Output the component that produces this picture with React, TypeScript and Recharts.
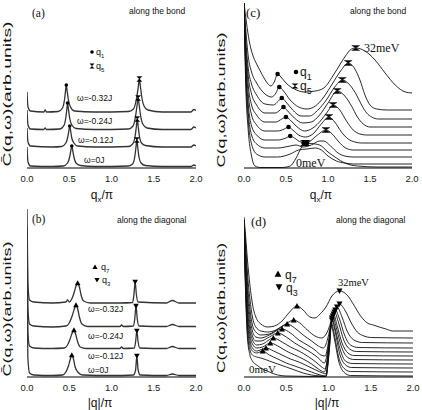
import React from 'react';
import { ComposedChart, Line, Scatter, XAxis, YAxis } from 'recharts';

type P = [number, number];

const SANS = "'Liberation Sans', Arial, sans-serif";
const SERIF = "'Liberation Serif', 'Times New Roman', serif";

const xTicks = [0, 0.5, 1, 1.5, 2];
const xTickLabels = ['0.0', '0.5', '1.0', '1.5', '2.0'];
const dSideTicks = [22.5, 45, 67.5, 90, 112.5, 135, 157.5];

// ---------- panel (a): along the bond, omega series ----------
const aOmegaLabels = ['ω=0J', 'ω=-0.12J', 'ω=-0.24J', 'ω=-0.32J'];
const aW0: P[] = [[0, 21], [0.012, 6], [0.04, 2], [0.3, 1.5], [0.43, 2], [0.48, 5], [0.505, 11], [0.52, 18], [0.53, 22], [0.54, 18], [0.555, 11], [0.58, 5], [0.63, 2.5], [0.8, 1.5], [1.2, 2], [1.25, 4], [1.275, 11], [1.29, 21], [1.3, 28], [1.31, 21], [1.325, 11], [1.35, 5], [1.4, 2.5], [1.6, 1.5], [1.94, 1.5], [1.975, 3], [2, 2]];
const aW1: P[] = [[0, 40], [0.012, 26], [0.04, 22], [0.3, 21], [0.41, 21.5], [0.46, 25], [0.485, 32], [0.497, 38], [0.505, 42], [0.515, 38], [0.53, 30], [0.555, 25], [0.6, 22], [0.8, 21], [1.2, 21.5], [1.25, 24], [1.28, 32], [1.295, 42], [1.305, 49], [1.315, 42], [1.33, 32], [1.355, 25], [1.4, 22.5], [1.6, 21], [1.94, 21], [1.975, 23], [2, 22]];
const aW2: P[] = [[0, 58], [0.012, 43], [0.04, 39], [0.2, 38.5], [0.215, 40], [0.23, 38.5], [0.39, 39], [0.44, 43], [0.462, 52], [0.472, 59], [0.48, 65], [0.49, 59], [0.505, 50], [0.53, 43], [0.58, 39.5], [0.8, 38.5], [1.2, 39], [1.255, 42], [1.285, 52], [1.303, 63], [1.315, 70], [1.327, 63], [1.345, 52], [1.37, 44], [1.42, 40], [1.6, 38.5], [1.94, 38.5], [1.975, 41], [2, 40]];
const aW3: P[] = [[0, 76], [0.012, 61], [0.04, 57], [0.2, 56], [0.215, 58], [0.23, 56], [0.37, 56.5], [0.42, 60], [0.445, 69], [0.456, 77], [0.465, 83], [0.475, 77], [0.49, 68], [0.515, 61], [0.56, 57], [0.8, 56], [1.2, 56.5], [1.26, 59], [1.295, 69], [1.317, 81], [1.33, 89], [1.343, 81], [1.36, 70], [1.385, 62], [1.43, 58], [1.6, 56], [1.94, 56], [1.975, 58.5], [2, 57.5]];
const aQ1: P[] = [[0.53, 22], [0.505, 42], [0.48, 65], [0.465, 83]];
const aQ5: P[] = [[1.3, 28], [1.305, 49], [1.315, 70], [1.33, 89]];

// ---------- panel (b): along the diagonal, omega series ----------
const bW0: P[] = [[0, 100], [0.01, 20], [0.03, 4], [0.08, 2], [0.3, 1.5], [0.42, 2], [0.46, 5], [0.49, 11], [0.51, 17], [0.53, 22], [0.55, 18], [0.57, 10], [0.6, 5], [0.66, 2], [1.0, 1.5], [1.26, 2], [1.285, 7], [1.3, 21], [1.315, 7], [1.34, 2], [1.65, 1.5], [1.72, 3], [1.8, 1.5], [2, 1.5]];
const bW1: P[] = [[0, 120], [0.01, 45], [0.03, 31], [0.08, 29], [0.3, 28.5], [0.44, 29], [0.48, 32], [0.51, 38], [0.535, 44], [0.556, 47], [0.575, 43], [0.6, 35], [0.63, 30], [0.7, 28.5], [1.1, 28.5], [1.12, 30], [1.14, 28.5], [1.27, 29], [1.285, 35], [1.3, 46], [1.315, 35], [1.335, 29], [1.65, 28.5], [1.72, 30.5], [1.8, 28.5], [2, 28.5]];
const bW2: P[] = [[0, 150], [0.01, 70], [0.03, 53], [0.08, 51], [0.3, 50], [0.46, 51], [0.5, 54], [0.53, 60], [0.56, 68], [0.58, 72], [0.6, 68], [0.62, 60], [0.65, 53], [0.72, 50.5], [1.1, 50.5], [1.12, 52], [1.14, 50.5], [1.26, 51], [1.275, 58], [1.29, 71], [1.305, 58], [1.325, 51], [1.65, 50.5], [1.72, 52.5], [1.8, 50.5], [2, 50.5]];
const bW3: P[] = [[0, 168], [0.01, 95], [0.03, 77], [0.08, 75], [0.3, 74], [0.46, 75], [0.48, 77], [0.5, 75], [0.53, 78], [0.56, 85], [0.58, 91], [0.6, 94], [0.62, 90], [0.64, 82], [0.67, 76], [0.75, 74], [1.1, 74], [1.25, 74.5], [1.265, 82], [1.28, 95], [1.295, 82], [1.315, 75], [1.65, 74], [1.72, 76.5], [1.8, 74], [2, 74]];
const bQ7: P[] = [[0.53, 22], [0.556, 47], [0.58, 72], [0.6, 94]];
const bQ3: P[] = [[1.3, 21], [1.3, 46], [1.29, 71], [1.28, 95]];

// ---------- panel (c): along the bond, 0meV .. 32meV ----------
const c0: P[] = [[0, 165], [0.02, 85], [0.05, 38], [0.09, 12], [0.13, 2], [0.2, 0.5], [0.45, 0.5], [0.55, 2], [0.62, 10], [0.68, 20], [0.73, 25], [0.8, 24.5], [0.9, 23], [1.0, 16], [1.1, 10], [1.2, 5], [1.35, 2], [1.6, 1], [2, 1]];
const c1: P[] = [[0, 165], [0.02, 95], [0.05, 48], [0.09, 24], [0.15, 14], [0.25, 11], [0.4, 11], [0.55, 14], [0.65, 18], [0.75, 19], [0.85, 20], [0.92, 18], [1.0, 12], [1.1, 7], [1.2, 5], [1.3, 4], [2, 4]];
const c2: P[] = [[0, 165], [0.02, 100], [0.05, 56], [0.09, 33], [0.15, 24], [0.25, 20], [0.4, 20], [0.55, 22], [0.62, 23], [0.7, 21], [0.8, 23], [0.9, 27], [0.95, 27], [1.03, 22], [1.12, 15], [1.2, 12], [1.3, 11], [2, 11]];
const c3: P[] = [[0, 165], [0.02, 105], [0.05, 64], [0.09, 42], [0.15, 33], [0.25, 28], [0.4, 28], [0.5, 30], [0.55, 32], [0.6, 30], [0.68, 26], [0.76, 26], [0.86, 32], [0.976, 38], [1.05, 34], [1.13, 26], [1.21, 20], [1.3, 18], [2, 18]];
const c4: P[] = [[0, 165], [0.02, 112], [0.05, 74], [0.09, 53], [0.15, 43], [0.25, 37], [0.4, 37], [0.48, 39], [0.53, 41], [0.58, 38], [0.65, 33], [0.73, 31], [0.82, 34], [0.92, 44], [1.01, 51], [1.08, 46], [1.16, 36], [1.24, 29], [1.32, 26], [1.4, 25], [2, 25]];
const c5: P[] = [[0, 165], [0.02, 118], [0.05, 83], [0.09, 63], [0.15, 53], [0.25, 46], [0.38, 46], [0.45, 49], [0.5, 51], [0.55, 48], [0.62, 42], [0.72, 37], [0.82, 40], [0.92, 48], [1.0, 57], [1.06, 63], [1.14, 58], [1.22, 47], [1.3, 38], [1.38, 34], [1.46, 33], [2, 33]];
const c6: P[] = [[0, 165], [0.02, 124], [0.05, 92], [0.09, 74], [0.15, 63], [0.25, 55], [0.37, 55], [0.43, 58], [0.47, 61], [0.52, 57], [0.6, 50], [0.7, 45], [0.8, 46], [0.9, 53], [1.0, 65], [1.11, 77], [1.2, 72], [1.28, 62], [1.35, 51], [1.42, 44], [1.5, 41], [2, 41]];
const c7: P[] = [[0, 165], [0.02, 130], [0.05, 100], [0.09, 84], [0.15, 73], [0.25, 64], [0.35, 63], [0.41, 67], [0.45, 70], [0.5, 66], [0.58, 58], [0.68, 52], [0.78, 52], [0.88, 58], [0.98, 68], [1.08, 81], [1.17, 88], [1.26, 83], [1.34, 73], [1.4, 63], [1.46, 55], [1.52, 51], [1.6, 49], [2, 49]];
const c8: P[] = [[0, 165], [0.02, 140], [0.05, 112], [0.09, 96], [0.15, 85], [0.25, 74], [0.33, 71], [0.38, 75], [0.42, 81], [0.47, 77], [0.55, 68], [0.65, 61], [0.75, 59], [0.85, 62], [0.95, 71], [1.05, 84], [1.15, 97], [1.24, 105], [1.32, 99], [1.38, 88], [1.44, 73], [1.5, 63], [1.58, 59], [1.7, 58], [2, 58]];
const c9: P[] = [[0, 165], [0.03, 145], [0.06, 128], [0.1, 114], [0.15, 104], [0.2, 96], [0.26, 87], [0.32, 82], [0.36, 86], [0.4, 94], [0.44, 91], [0.5, 85], [0.6, 79], [0.72, 76], [0.85, 77], [0.95, 80], [1.08, 95], [1.2, 111], [1.28, 119], [1.33, 120], [1.44, 117], [1.56, 108], [1.68, 95], [1.8, 83], [1.92, 76], [2, 75]];
const cQ1: P[] = [[0.4, 94], [0.42, 81], [0.45, 70], [0.47, 61], [0.5, 51], [0.53, 41], [0.55, 32]];
const cQ5: P[] = [[1.33, 120], [1.24, 105], [1.17, 88], [1.11, 77], [1.06, 63], [1.01, 51], [0.976, 38]];
const cMerged: P[] = [[0.73, 25]];

// ---------- panel (d): along the diagonal, 0meV .. 32meV ----------
const d0: P[] = [[0, 149], [0.02, 80], [0.04, 40], [0.07, 22], [0.1, 16], [0.15, 12], [0.2, 9], [0.3, 5], [0.4, 2], [0.5, 1], [0.97, 0.5], [1.0, 18], [1.02, 38], [1.03, 52], [1.07, 38], [1.12, 16], [1.18, 5], [1.26, 1.5], [2, 1]];
const d1: P[] = [[0, 150], [0.02, 85], [0.04, 46], [0.07, 27], [0.1, 22], [0.15, 20], [0.2, 19], [0.3, 16], [0.4, 13], [0.5, 10], [0.6, 7], [0.7, 4], [0.8, 2], [0.9, 1], [0.97, 0.5], [1.0, 20], [1.02, 40], [1.03, 55], [1.07, 42], [1.12, 20], [1.18, 9], [1.26, 5.5], [2, 5]];
const d2: P[] = [[0, 151], [0.02, 90], [0.04, 52], [0.07, 32], [0.1, 26], [0.15, 24], [0.22, 26], [0.3, 22], [0.4, 18], [0.5, 14], [0.6, 11], [0.7, 8], [0.8, 5], [0.9, 2], [0.97, 1], [1.0, 22], [1.02, 42], [1.04, 57], [1.08, 45], [1.13, 24], [1.19, 13], [1.27, 9.5], [2, 9]];
const d3: P[] = [[0, 152], [0.02, 95], [0.04, 58], [0.07, 37], [0.1, 29], [0.15, 26], [0.26, 29], [0.35, 26], [0.45, 22], [0.55, 18], [0.65, 15], [0.75, 11], [0.85, 7], [0.93, 4], [0.97, 3], [1.0, 25], [1.02, 45], [1.04, 59], [1.08, 48], [1.14, 27], [1.2, 16], [1.28, 13.5], [2, 13]];
const d4: P[] = [[0, 153], [0.02, 100], [0.04, 64], [0.07, 42], [0.1, 33], [0.15, 29], [0.22, 30], [0.311, 34], [0.4, 31], [0.5, 26], [0.6, 22], [0.7, 18], [0.8, 13], [0.88, 8], [0.95, 5], [0.99, 20], [1.02, 47], [1.05, 61], [1.09, 50], [1.15, 31], [1.22, 20], [1.3, 17.5], [2, 17]];
const d5: P[] = [[0, 154], [0.02, 106], [0.04, 70], [0.07, 47], [0.1, 37], [0.15, 32], [0.22, 33], [0.347, 39], [0.45, 35], [0.55, 30], [0.65, 26], [0.75, 21], [0.85, 15], [0.92, 10], [0.96, 8], [1.0, 28], [1.03, 52], [1.06, 63], [1.1, 52], [1.16, 34], [1.23, 24], [1.3, 21.5], [2, 21]];
const d6: P[] = [[0, 155], [0.02, 112], [0.04, 78], [0.07, 53], [0.1, 41], [0.14, 36], [0.2, 36], [0.3, 40], [0.4, 44], [0.5, 40], [0.6, 34], [0.7, 29], [0.8, 24], [0.88, 19], [0.95, 14], [0.99, 26], [1.03, 52], [1.07, 65], [1.12, 54], [1.18, 37], [1.25, 28], [1.33, 25.5], [2, 25]];
const d7: P[] = [[0, 156], [0.02, 118], [0.04, 86], [0.07, 60], [0.1, 46], [0.14, 40], [0.2, 39], [0.3, 42], [0.45, 48], [0.55, 44], [0.65, 37], [0.75, 32], [0.84, 27], [0.91, 22], [0.96, 21], [1.0, 35], [1.04, 56], [1.08, 67], [1.13, 58], [1.19, 42], [1.26, 32], [1.35, 29.5], [2, 29]];
const d8: P[] = [[0, 157], [0.02, 125], [0.04, 95], [0.07, 68], [0.1, 52], [0.14, 45], [0.2, 42], [0.3, 43], [0.4, 48], [0.51, 53], [0.6, 49], [0.7, 42], [0.8, 36], [0.88, 31], [0.94, 29], [0.99, 38], [1.04, 58], [1.1, 70], [1.16, 60], [1.22, 46], [1.3, 37], [1.4, 34.5], [2, 34]];
const d9: P[] = [[0, 158], [0.02, 132], [0.04, 105], [0.07, 78], [0.1, 60], [0.14, 50], [0.2, 46], [0.28, 45], [0.38, 47], [0.48, 52], [0.588, 57], [0.66, 54], [0.75, 47], [0.84, 41], [0.92, 39], [0.98, 44], [1.05, 60], [1.13, 73], [1.2, 66], [1.27, 54], [1.34, 45], [1.42, 41], [1.5, 39.5], [2, 39]];
const d10: P[] = [[0, 160], [0.02, 140], [0.04, 118], [0.07, 92], [0.1, 73], [0.14, 60], [0.2, 53], [0.28, 50], [0.36, 51], [0.45, 56], [0.54, 65], [0.627, 71], [0.7, 67], [0.78, 60], [0.84, 59], [0.9, 63], [0.97, 70], [1.04, 81], [1.13, 86], [1.22, 82], [1.3, 72], [1.38, 61], [1.46, 54], [1.53, 52], [1.6, 50], [1.68, 48], [1.76, 46], [2, 46]];
const dQ7: P[] = [[0.627, 71], [0.588, 57], [0.51, 53], [0.45, 48], [0.4, 44], [0.347, 39], [0.311, 34], [0.26, 29], [0.22, 26]];
const dQ3: P[] = [[1.13, 86], [1.13, 73], [1.1, 70], [1.08, 67], [1.07, 65], [1.06, 63], [1.05, 61], [1.04, 59], [1.04, 57]];

const toObj = (pts: P[]) => pts.map(([x, y]) => ({ x, y }));

// ---------- marker shapes ----------
const hgPath = (cx: number, cy: number, w: number, h: number) =>
  `M${cx - w / 2},${cy - h / 2}L${cx + w / 2},${cy - h / 2}L${cx},${cy}L${cx + w / 2},${cy + h / 2}L${cx - w / 2},${cy + h / 2}L${cx},${cy}Z`;
const triUpPath = (cx: number, cy: number, s: number) =>
  `M${cx},${cy - s}L${cx + s},${cy + s * 0.8}L${cx - s},${cy + s * 0.8}Z`;
const triDownPath = (cx: number, cy: number, s: number) =>
  `M${cx},${cy + s}L${cx + s},${cy - s * 0.8}L${cx - s},${cy - s * 0.8}Z`;

const dotShape = (r: number) => (p: any) => <circle cx={p.cx} cy={p.cy} r={r} fill="#000" />;
const hgShape = (w: number, h: number) => (p: any) => <path d={hgPath(p.cx, p.cy, w, h)} fill="#000" stroke="#000" strokeWidth={0.4} />;
const upShape = (s: number) => (p: any) => <path d={triUpPath(p.cx, p.cy, s)} fill="#000" />;
const downShape = (s: number) => (p: any) => <path d={triDownPath(p.cx, p.cy, s)} fill="#000" />;
const mergedShape = (p: any) => (
  <g>
    <path d={hgPath(p.cx, p.cy, 11, 6)} fill="#000" />
    <ellipse cx={p.cx} cy={p.cy} rx={4} ry={2.6} fill="#000" />
  </g>
);

type Marker = { pts: P[]; shape: (p: any) => React.ReactElement };

type PanelProps = {
  left: number;
  top: number;
  margin: { top: number; right: number; bottom: number; left: number };
  xAxisH: number;
  yMax: number;
  curves: P[][];
  markers: Marker[];
  stroke: string;
  sw: number;
  innerTicks?: boolean;
};

function Panel({ left, top, margin, xAxisH, yMax, curves, markers, stroke, sw, innerTicks }: PanelProps) {
  const empty = () => '';
  return (
    <div style={{ position: 'absolute', left, top, width: 211, height: 205 }}>
      <ComposedChart width={211} height={205} margin={margin}>
        <XAxis
          dataKey="x"
          type="number"
          domain={[0, 2]}
          ticks={xTicks}
          interval={0}
          allowDataOverflow
          height={xAxisH}
          tickLine={false}
          tickSize={5}
          axisLine={{ stroke: '#000', strokeWidth: 1 }}
          tick={{ fontSize: 9.5, fill: '#222', fontFamily: SANS }}
          tickFormatter={(v: number) => xTickLabels[xTicks.indexOf(v)] ?? String(v)}
        />
        <XAxis
          xAxisId="t"
          orientation="top"
          type="number"
          domain={[0, 2]}
          ticks={[0.5, 1, 1.5]}
          height={0}
          mirror
          tickSize={innerTicks ? 4 : 0}
          tickLine={innerTicks ? { stroke: '#000' } : false}
          axisLine={{ stroke: '#000', strokeWidth: 1 }}
          tickFormatter={empty}
        />
        <YAxis
          dataKey="y"
          type="number"
          domain={[0, yMax]}
          allowDataOverflow
          width={0}
          mirror
          ticks={innerTicks ? dSideTicks : []}
          tickSize={innerTicks ? 4 : 0}
          tickLine={innerTicks ? { stroke: '#000' } : false}
          axisLine={{ stroke: '#000', strokeWidth: 1 }}
          tickFormatter={empty}
        />
        <YAxis
          yAxisId="r"
          orientation="right"
          type="number"
          domain={[0, yMax]}
          width={0}
          mirror
          ticks={innerTicks ? dSideTicks : []}
          tickSize={innerTicks ? 4 : 0}
          tickLine={innerTicks ? { stroke: '#000' } : false}
          axisLine={{ stroke: '#000', strokeWidth: 1 }}
          tickFormatter={empty}
        />
        {curves.map((c, i) => (
          <Line
            key={'l' + i}
            data={toObj(c)}
            dataKey="y"
            type="monotone"
            dot={false}
            activeDot={false}
            stroke={stroke}
            strokeWidth={sw}
            isAnimationActive={false}
          />
        ))}
        {markers.map((m, i) => (
          <Scatter key={'s' + i} data={toObj(m.pts)} dataKey="y" shape={m.shape} isAnimationActive={false} />
        ))}
      </ComposedChart>
    </div>
  );
}

function QText({ x, y, sub, fs, subFs }: { x: number; y: number; sub: string; fs: number; subFs: number }) {
  return (
    <text x={x} y={y} fontSize={fs} fontFamily={SANS} fill="#111">
      q<tspan fontSize={subFs} dy={subFs * 0.45}>{sub}</tspan>
    </text>
  );
}

function Overlay() {
  const txt = { fill: '#111' };
  return (
    <svg width={422} height={410} style={{ position: 'absolute', left: 0, top: 0, pointerEvents: 'none' }}>
      {/* panel a */}
      <text x={32} y={17} fontSize={11.5} fontFamily={SERIF} {...txt}>(a)</text>
      <text x={129} y={14} fontSize={8.5} fontFamily={SANS} {...txt}>along the bond</text>
      <circle cx={92} cy={52} r={1.8} fill="#000" />
      <QText x={96} y={55} sub="1" fs={9} subFs={6} />
      <path d={hgPath(92, 66, 5, 5)} fill="#000" />
      <QText x={96} y={69} sub="5" fs={9} subFs={6} />
      <text x={77} y={101} fontSize={8.5} fontFamily={SANS} {...txt}>{aOmegaLabels[3]}</text>
      <text x={77} y={124} fontSize={8.5} fontFamily={SANS} {...txt}>{aOmegaLabels[2]}</text>
      <text x={78} y={143} fontSize={8.5} fontFamily={SANS} {...txt}>{aOmegaLabels[1]}</text>
      <text x={84} y={163} fontSize={8.5} fontFamily={SANS} {...txt}>{aOmegaLabels[0]}</text>
      <text x={102} y={199} fontSize={12} fontFamily={SANS} textAnchor="middle" {...txt}>
        q<tspan fontSize={8} dy={3}>x</tspan><tspan dy={-3}>/π</tspan>
      </text>
      <text x={11} y={94} transform="rotate(-90 11 94)" fontSize={11} fontFamily={SANS} textAnchor="middle" textLength={145} lengthAdjust="spacingAndGlyphs" {...txt}>
        C̄(q,ω)(arb.units)
      </text>

      {/* panel c */}
      <text x={246} y={17} fontSize={13} fontFamily={SERIF} {...txt}>(c)</text>
      <text x={350} y={14} fontSize={8.5} fontFamily={SANS} {...txt}>along the bond</text>
      <circle cx={296} cy={72} r={2.3} fill="#000" />
      <QText x={300} y={76} sub="1" fs={12} subFs={9} />
      <path d={hgPath(295, 86, 7, 5)} fill="#000" />
      <QText x={300} y={90} sub="5" fs={12} subFs={9} />
      <text x={364} y={52} fontSize={12} fontFamily={SERIF} {...txt}>32meV</text>
      <text x={296} y={167} fontSize={12} fontFamily={SERIF} {...txt}>0meV</text>
      <text x={321} y={199} fontSize={12} fontFamily={SANS} textAnchor="middle" {...txt}>
        q<tspan fontSize={8} dy={3}>x</tspan><tspan dy={-3}>/π</tspan>
      </text>
      <text x={225} y={100} transform="rotate(-90 225 100)" fontSize={11} fontFamily={SANS} textAnchor="middle" textLength={135} lengthAdjust="spacingAndGlyphs" {...txt}>
        C(q,ω)(arb.units)
      </text>

      {/* panel b */}
      <text x={32} y={223} fontSize={11.5} fontFamily={SERIF} {...txt}>(b)</text>
      <text x={117} y={223} fontSize={8.5} fontFamily={SANS} {...txt}>along the diagonal</text>
      <path d={triUpPath(95, 267, 2.6)} fill="#000" />
      <QText x={101} y={270} sub="7" fs={9} subFs={6} />
      <path d={triDownPath(97, 280, 2.6)} fill="#000" />
      <QText x={102} y={283} sub="3" fs={9} subFs={6} />
      <text x={88} y={312} fontSize={8.5} fontFamily={SANS} {...txt}>{aOmegaLabels[3]}</text>
      <text x={88} y={339} fontSize={8.5} fontFamily={SANS} {...txt}>{aOmegaLabels[2]}</text>
      <text x={88} y={359} fontSize={8.5} fontFamily={SANS} {...txt}>{aOmegaLabels[1]}</text>
      <text x={88} y={373} fontSize={8.5} fontFamily={SANS} {...txt}>{aOmegaLabels[0]}</text>
      <text x={100} y={407} fontSize={12} fontFamily={SANS} textAnchor="middle" {...txt}>|q|/π</text>
      <text x={11} y={309} transform="rotate(-90 11 309)" fontSize={11} fontFamily={SANS} textAnchor="middle" textLength={135} lengthAdjust="spacingAndGlyphs" {...txt}>
        C̄(q,ω)(arb.units)
      </text>

      {/* panel d */}
      <text x={251} y={226} fontSize={13} fontFamily={SERIF} {...txt}>(d)</text>
      <text x={336} y={223} fontSize={8.5} fontFamily={SANS} {...txt}>along the diagonal</text>
      <path d={triUpPath(278, 274, 3.4)} fill="#000" />
      <QText x={285} y={279} sub="7" fs={12} subFs={9} />
      <path d={triDownPath(279, 287, 3.4)} fill="#000" />
      <QText x={286} y={292} sub="3" fs={12} subFs={9} />
      <text x={338} y={286} fontSize={10.5} fontFamily={SERIF} {...txt}>32meV</text>
      <text x={249} y={373} fontSize={11} fontFamily={SERIF} {...txt}>0meV</text>
      <text x={327} y={407} fontSize={12} fontFamily={SANS} textAnchor="middle" {...txt}>|q|/π</text>
      <text x={225} y={308} transform="rotate(-90 225 308)" fontSize={11} fontFamily={SANS} textAnchor="middle" textLength={130} lengthAdjust="spacingAndGlyphs" {...txt}>
        C(q,ω)(arb.units)
      </text>
    </svg>
  );
}

export default function App() {
  return (
    <div style={{ position: 'absolute', left: 0, top: 0, width: 422, height: 410, background: '#fff', overflow: 'hidden' }}>
      <Panel
        left={0}
        top={0}
        margin={{ top: 3, right: 15, bottom: 0, left: 27 }}
        xAxisH={37}
        yMax={165}
        curves={[aW0, aW1, aW2, aW3]}
        markers={[
          { pts: aQ1, shape: dotShape(1.8) },
          { pts: aQ5, shape: hgShape(5, 5) },
        ]}
        stroke="#333"
        sw={1.3}
      />
      <Panel
        left={211}
        top={0}
        margin={{ top: 3, right: 10, bottom: 0, left: 33 }}
        xAxisH={37}
        yMax={165}
        curves={[c0, c1, c2, c3, c4, c5, c6, c7, c8, c9]}
        markers={[
          { pts: cQ1, shape: dotShape(2.3) },
          { pts: cQ5, shape: hgShape(8, 5) },
          { pts: cMerged, shape: mergedShape },
        ]}
        stroke="#111"
        sw={0.9}
      />
      <Panel
        left={0}
        top={205}
        margin={{ top: 3, right: 15, bottom: 0, left: 27 }}
        xAxisH={33}
        yMax={169}
        curves={[bW0, bW1, bW2, bW3]}
        markers={[
          { pts: bQ7, shape: upShape(2.8) },
          { pts: bQ3, shape: downShape(2.8) },
        ]}
        stroke="#333"
        sw={1.3}
      />
      <Panel
        left={211}
        top={205}
        margin={{ top: 3, right: 9, bottom: 0, left: 33 }}
        xAxisH={33}
        yMax={169}
        curves={[d0, d1, d2, d3, d4, d5, d6, d7, d8, d9, d10]}
        markers={[
          { pts: dQ7, shape: upShape(3) },
          { pts: dQ3, shape: downShape(3) },
        ]}
        stroke="#111"
        sw={0.9}
        innerTicks
      />
      <Overlay />
    </div>
  );
}
